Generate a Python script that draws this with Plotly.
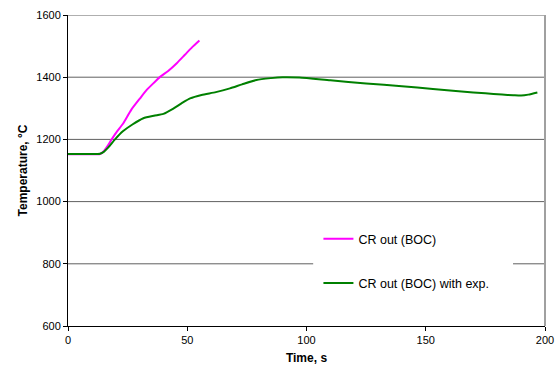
import plotly.graph_objects as go

# Data
t_boc = [0, 5, 10, 13.4, 15, 16.5, 18.3, 20.5, 23.2, 26.5, 30.2, 33, 36, 38.6, 42, 45.6, 49, 52, 55.1]
T_boc = [1152, 1152, 1152, 1153, 1162, 1178, 1200, 1225, 1252, 1295, 1332, 1359, 1382, 1401, 1420, 1445, 1472, 1496, 1518]

t_exp = [0, 5, 10, 13.4, 15, 17, 19.7, 23, 27, 31.6, 36, 40, 44, 48, 51.2, 56, 62, 67.9, 73, 79, 85, 90, 97,
         110, 125, 140, 153, 165, 175, 182, 186.7, 190, 193, 196.8]
T_exp = [1153, 1153, 1153, 1154, 1160, 1175, 1200, 1226, 1248, 1268, 1276, 1282, 1298, 1318, 1332, 1343, 1352, 1364, 1377, 1391, 1397, 1400, 1399,
         1390, 1380, 1371, 1362, 1354, 1348, 1344, 1342, 1341, 1344, 1351]

x_ticks = [0, 50, 100, 150, 200]
y_ticks = [600, 800, 1000, 1200, 1400, 1600]

fig = go.Figure()
fig.add_trace(go.Scatter(x=t_boc, y=T_boc, mode="lines", name="CR out (BOC)",
                         line=dict(color="#FF00FF", width=2, shape="spline", smoothing=0.6), legendgroup="a"))
fig.add_trace(go.Scatter(x=t_exp, y=T_exp, mode="lines", name="CR out (BOC) with exp.",
                         line=dict(color="#008000", width=2, shape="spline", smoothing=0.6), legendgroup="b"))

# horizontal gridlines at the y tick values
for yv in y_ticks[1:]:
    fig.add_shape(type="line", xref="paper", yref="y", x0=0, x1=1, y0=yv, y1=yv,
                  line=dict(color="#606060", width=1), layer="below")
# legend background box (covers gridline)
fig.add_shape(type="rect", xref="paper", yref="paper", x0=0.514, x1=0.933, y0=0.05, y1=0.36,
              fillcolor="white", line=dict(width=0), layer="below")
# right border of plot area
fig.add_shape(type="line", xref="paper", yref="paper", x0=1, x1=1, y0=0, y1=1,
              line=dict(color="#A0A0A0", width=2))

fig.update_layout(
    width=558, height=375,
    margin=dict(l=68, r=13, t=15, b=49),
    paper_bgcolor="white", plot_bgcolor="white",
    font=dict(family="Arial, Liberation Sans, sans-serif", size=11, color="black"),
    showlegend=True,
    legend=dict(x=0.525, y=0.209, xanchor="left", yanchor="middle",
                bgcolor="rgba(0,0,0,0)", borderwidth=0, tracegroupgap=25,
                traceorder="grouped", font=dict(size=12.5), itemwidth=30),
    xaxis=dict(range=[0, 200], tickvals=x_ticks, showgrid=False, zeroline=False,
               showline=True, linecolor="black", linewidth=1, automargin=False,
               ticks="outside", ticklen=4, tickcolor="black", tickfont=dict(size=11),
               title=dict(text="<b>Time, s</b>", font=dict(size=12), standoff=8)),
    yaxis=dict(range=[600, 1600], tickvals=y_ticks, showgrid=False,
               zeroline=False, automargin=False,
               showline=True, linecolor="black", linewidth=1,
               ticks="outside", ticklen=4, tickcolor="black", tickfont=dict(size=11),
               title=dict(text="<b>Temperature, °C</b>", font=dict(size=12), standoff=6)),
)

fig.write_html("out.html")
